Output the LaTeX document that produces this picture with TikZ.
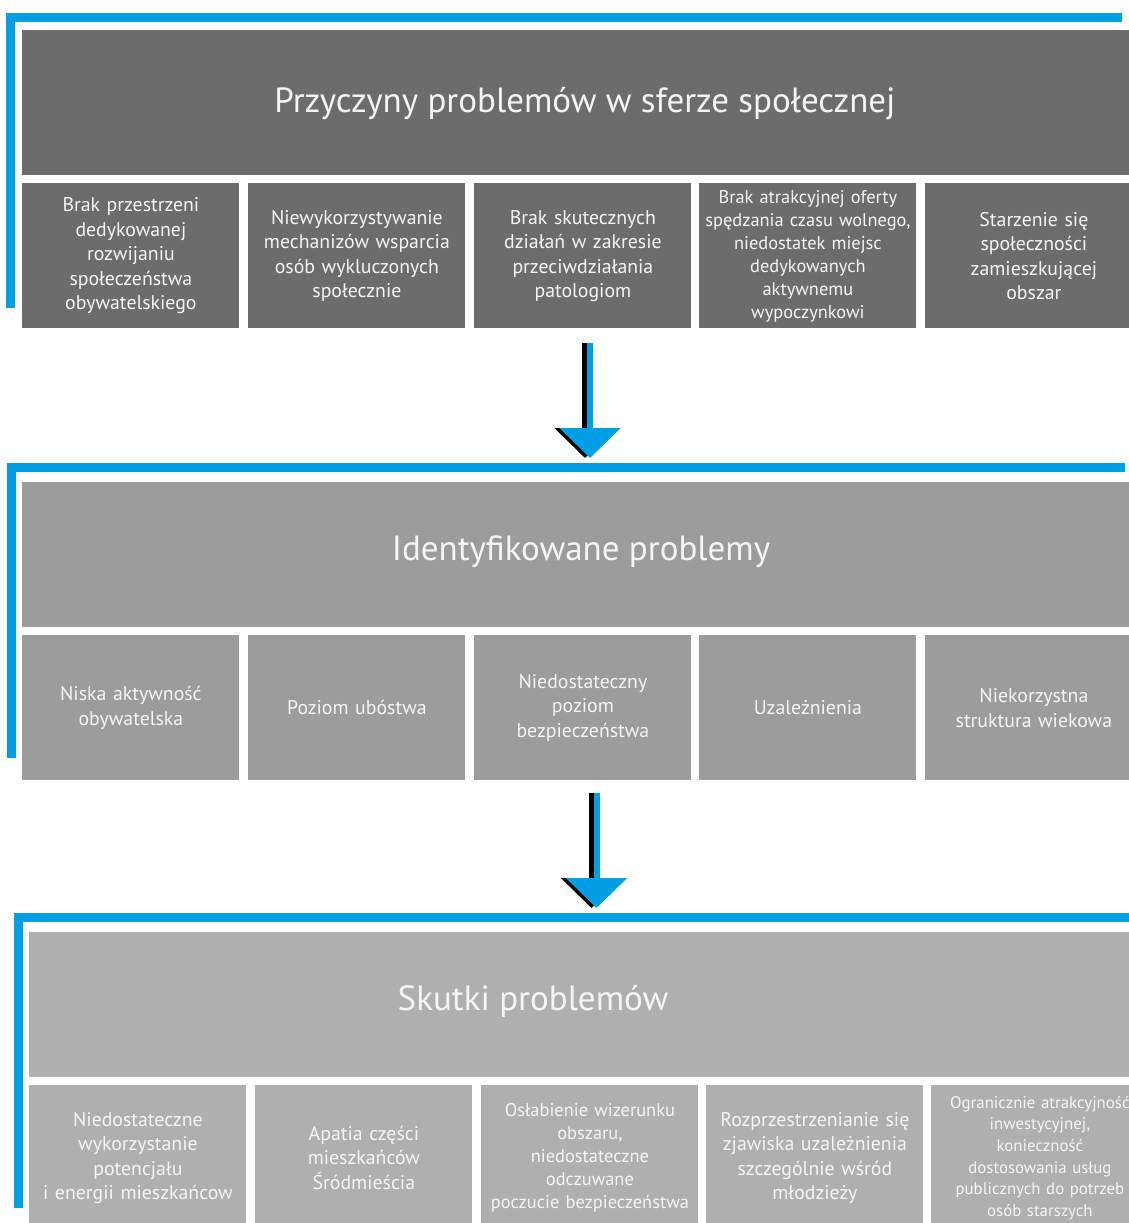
\documentclass[tikz,border=0pt]{standalone}
\usepackage{fontspec}
\setmainfont{PT Sans}
\usetikzlibrary{arrows.meta}
\definecolor{frameblue}{HTML}{009FE3}
\definecolor{darkgrey}{HTML}{6D6C6C}
\definecolor{midgrey}{HTML}{9C9C9C}
\definecolor{lightgrey}{HTML}{AFAFAF}
\tikzset{
	frameline/.style={frameblue, line width=4.5pt},
	headbox/.style={rectangle, anchor=north west, inner sep=0pt, minimum width=560.5pt, minimum height=72.5pt},
	itembox/.style={rectangle, anchor=north west, inner sep=0pt, minimum width=108.5pt, minimum height=72.5pt,
		text width=108pt, align=center, text=white!96!black, font=\fontsize{9.9pt}{12.25pt}\selectfont},
	smallbox/.style={itembox, font=\fontsize{9.2pt}{11.5pt}\selectfont},
	titletext/.style={text=white!96!black, font=\fontsize{17.5pt}{21pt}\selectfont},
	arrowbody/.style={line width=3pt, -{Triangle[width=30pt,length=15pt]}}
}
\begin{document}
\begin{tikzpicture}[x=0.5pt, y=-0.5pt]
	\useasboundingbox (0,0) rectangle (1129,1223);
	\clip (0,0) rectangle (1129,1223);
	% przyczyny
	\draw[frameline] (1122,17) -- (10.5,17) -- (10.5,308);
	\node[headbox, fill=darkgrey] (H1) at (22,30) {};
	\node[titletext] (T1) at (585,104) {Przyczyny problemów w sferze społecznej};
	\node[itembox, fill=darkgrey] (P1) at (22,183) {Brak przestrzeni\\dedykowanej\\rozwijaniu\\społeczeństwa\\obywatelskiego};
	\node[itembox, fill=darkgrey] (P2) at (248,183) {Niewykorzystywanie\\mechanizów wsparcia\\osób wykluczonych\\społecznie};
	\node[itembox, fill=darkgrey] (P3) at (474,183) {Brak skutecznych\\działań w zakresie\\przeciwdziałania\\patologiom};
	\node[smallbox, fill=darkgrey] (P4) at (699,183) {Brak atrakcyjnej oferty\\spędzania czasu wolnego,\\niedostatek miejsc\\dedykowanych\\aktywnemu\\wypoczynkowi};
	\node[itembox, fill=darkgrey] (P5) at (925,183) {Starzenie się\\społeczności\\zamieszkującej\\obszar};
	% strzalka 1
	\coordinate (A1) at (590,343);
	\coordinate (B1) at (590,458);
	\draw[arrowbody, black] ([xshift=-2.5pt]A1) -- ([xshift=-2.5pt]B1);
	\draw[arrowbody, frameblue] (A1) -- (B1);
	% problemy
	\draw[frameline] (1125,467) -- (11,467) -- (11,758);
	\node[headbox, fill=midgrey] (H2) at (22,482) {};
	\node[titletext] (T2) at (581,552) {Identyfikowane problemy};
	\node[itembox, fill=midgrey] (I1) at (22,635) {Niska aktywność\\obywatelska};
	\node[itembox, fill=midgrey] (I2) at (248,635) {Poziom ubóstwa};
	\node[itembox, fill=midgrey] (I3) at (474,635) {Niedostateczny\\poziom\\bezpieczeństwa};
	\node[itembox, fill=midgrey] (I4) at (699,635) {Uzależnienia};
	\node[itembox, fill=midgrey] (I5) at (925,635) {Niekorzystna\\struktura wiekowa};
	% strzalka 2
	\coordinate (A2) at (596.5,793);
	\coordinate (B2) at (596.5,908);
	\draw[arrowbody, black] ([xshift=-2.5pt]A2) -- ([xshift=-2.5pt]B2);
	\draw[arrowbody, frameblue] (A2) -- (B2);
	% skutki
	\draw[frameline] (1129,917) -- (18,917) -- (18,1208);
	\node[headbox, fill=lightgrey] (H3) at (29,932) {};
	\node[titletext] (T3) at (533,1001) {Skutki problemów};
	\node[itembox, fill=lightgrey] (S1) at (29,1085) {Niedostateczne\\wykorzystanie\\potencjału\\i energii mieszkańcow};
	\node[itembox, fill=lightgrey] (S2) at (255,1085) {Apatia części\\mieszkańców\\Śródmieścia};
	\node[smallbox, fill=lightgrey] (S3) at (481,1085) {Osłabienie wizerunku\\obszaru,\\niedostateczne\\odczuwane\\poczucie bezpieczeństwa};
	\node[itembox, fill=lightgrey] (S4) at (706,1085) {Rozprzestrzenianie się\\zjawiska uzależnienia\\szczególnie wśród\\młodzieży};
	\node[smallbox, fill=lightgrey, font=\fontsize{8.4pt}{10.8pt}\selectfont] (S5) at (931,1085) {Ogranicznie atrakcyjność\\inwestycyjnej,\\konieczność\\dostosowania usług\\publicznych do potrzeb\\osób starszych};
\end{tikzpicture}
\end{document}
